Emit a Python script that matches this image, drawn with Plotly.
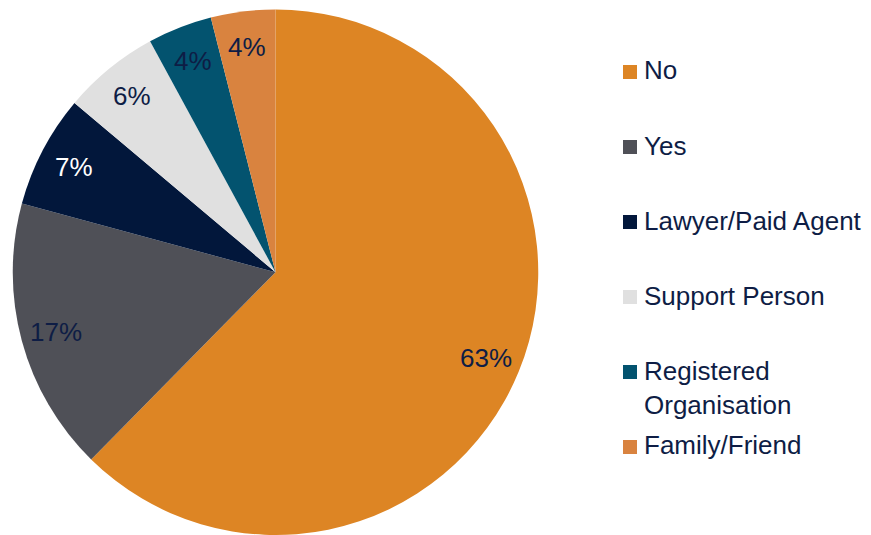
import math
import plotly.graph_objects as go

# Representation at hearing
categories = ["No", "Yes", "Lawyer/Paid Agent", "Support Person",
              "Registered Organisation", "Family/Friend"]
legend_labels = ["No", "Yes", "Lawyer/Paid Agent", "Support Person",
                 "Registered<br>Organisation", "Family/Friend"]
shares = [63, 17, 7, 6, 4, 4]
slice_colors = ["#DD8524", "#4F5057", "#02173B", "#E0E0E0", "#03536F", "#D9833F"]
label_colors = ["#0E1D45", "#0E1D45", "#FFFFFF", "#0E1D45", "#0E1D45", "#0E1D45"]

W, H = 871, 535
FONT = "Liberation Sans, Arial, sans-serif"
NAVY = "#0E1D45"

# pie placement (paper fractions)
dom_x = [12.5 / W, 538.5 / W]
dom_y = [0.0, 525.5 / H]
cx_px = (dom_x[0] + dom_x[1]) / 2 * W
cy_px = (dom_y[0] + dom_y[1]) / 2 * H
r_px = min((dom_x[1] - dom_x[0]) * W, (dom_y[1] - dom_y[0]) * H) / 2

fig = go.Figure(go.Pie(
    labels=categories,
    values=shares,
    marker=dict(colors=slice_colors, line=dict(width=0)),
    sort=False,
    direction="clockwise",
    rotation=0,
    textinfo="none",
    hoverinfo="label+value",
    showlegend=False,
    domain=dict(x=dom_x, y=dom_y),
))

# percentage labels placed near the rim of each slice
annotations = []
total = sum(shares)
cum = 0
for v, col in zip(shares, label_colors):
    mid = (cum + v / 2) / total * 2 * math.pi
    cum += v
    rr = 0.865 * r_px
    annotations.append(dict(
        x=(cx_px + rr * math.sin(mid)) / W,
        y=(cy_px + rr * math.cos(mid)) / H,
        xref="paper", yref="paper", showarrow=False,
        text=f"{v}%", font=dict(family=FONT, size=26, color=col),
        xanchor="center", yanchor="middle",
    ))

# legend: coloured squares with category names
shapes = []
row0, row_gap, sq = 72, 75, 14
for i, (lab, col) in enumerate(zip(legend_labels, slice_colors)):
    yc = row0 + i * row_gap
    shapes.append(dict(
        type="rect", xref="paper", yref="paper",
        x0=623 / W, x1=(623 + sq) / W,
        y0=1 - (yc - sq / 2) / H, y1=1 - (yc + sq / 2) / H,
        fillcolor=col, line=dict(width=0),
    ))
    annotations.append(dict(
        x=642 / W, y=1 - (yc - 18.5) / H,
        xref="paper", yref="paper", showarrow=False,
        text=lab, align="left",
        font=dict(family=FONT, size=26, color=NAVY),
        xanchor="left", yanchor="top",
    ))

fig.update_layout(
    width=W, height=H,
    margin=dict(l=0, r=0, t=0, b=0),
    paper_bgcolor="white", plot_bgcolor="white",
    annotations=annotations, shapes=shapes,
    showlegend=False,
)

fig.write_html("out.html")
